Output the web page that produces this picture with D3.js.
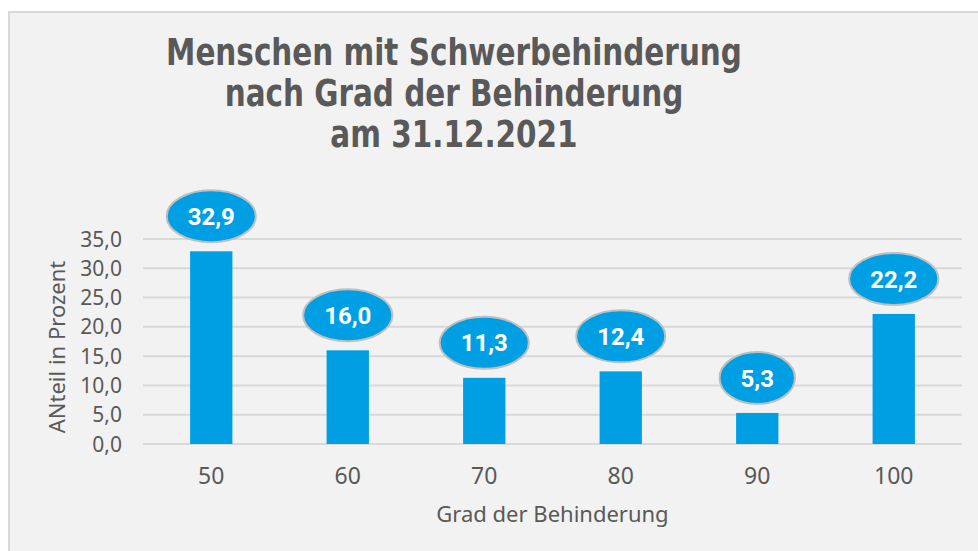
<!DOCTYPE html>
<html>
<head>
<meta charset="utf-8">
<script src="https://cdn.jsdelivr.net/npm/d3@7"></script>
<style>
    body { margin: 0; background: #ffffff; }
    svg { display: block; }
</style>
</head>
<body>
<script>
    // Data
    let grades = ["50", "60", "70", "80", "90", "100"];
    let shares = [32.9, 16.0, 11.3, 12.4, 5.3, 22.2];
    let yTicks = [0, 5, 10, 15, 20, 25, 30, 35];
    let titleLines = ["Menschen mit Schwerbehinderung", "nach Grad der Behinderung", "am 31.12.2021"];

    let W = 978, H = 551;
    let margin = { top: 239, right: 16, bottom: 107, left: 143 };
    let fmt = v => v.toFixed(1).replace(".", ",");

    let svg = d3.select("body").append("svg")
        .attr("width", W)
        .attr("height", H);

    // chart area background + border (left and top only visible)
    svg.append("rect")
        .attr("x", 9).attr("y", 12)
        .attr("width", W - 9).attr("height", H - 12)
        .attr("fill", "#f2f2f2");
    svg.append("path")
        .attr("d", `M9,${H} V12 H${W}`)
        .attr("fill", "none")
        .attr("stroke", "#d9d9d9")
        .attr("stroke-width", 2);

    let x = d3.scaleBand()
        .domain(grades)
        .range([margin.left, W - margin.right])
        .paddingInner(0.69)
        .paddingOuter(0.345);

    let y = d3.scaleLinear()
        .domain([0, 35])
        .range([H - margin.bottom, margin.top]);

    let font = "'Noto Sans', 'Open Sans', sans-serif";

    // gridlines
    svg.append("g")
        .selectAll("line")
        .data(yTicks)
        .join("line")
        .attr("x1", margin.left)
        .attr("x2", W - margin.right)
        .attr("y1", d => y(d))
        .attr("y2", d => y(d))
        .attr("stroke", "#d9d9d9")
        .attr("stroke-width", 2);

    // y tick labels
    svg.append("g")
        .selectAll("text")
        .data(yTicks)
        .join("text")
        .attr("x", 122)
        .attr("y", d => y(d))
        .attr("dy", "0.36em")
        .attr("text-anchor", "end")
        .attr("font-family", font)
        .attr("font-size", 21)
        .attr("fill", "#595959")
        .text(d => fmt(d));

    // bars
    svg.append("g")
        .selectAll("rect")
        .data(shares)
        .join("rect")
        .attr("x", (d, i) => x(grades[i]))
        .attr("y", d => y(d))
        .attr("width", x.bandwidth())
        .attr("height", d => y(0) - y(d))
        .attr("fill", "#009fe3");

    // x tick labels
    svg.append("g")
        .selectAll("text")
        .data(grades)
        .join("text")
        .attr("x", d => x(d) + x.bandwidth() / 2)
        .attr("y", 484)
        .attr("text-anchor", "middle")
        .attr("font-family", font)
        .attr("font-size", 23)
        .attr("fill", "#595959")
        .text(d => d);

    // axis titles
    svg.append("text")
        .attr("x", (margin.left + W - margin.right) / 2)
        .attr("y", 522)
        .attr("text-anchor", "middle")
        .attr("font-family", font)
        .attr("font-size", 22)
        .attr("fill", "#595959")
        .text("Grad der Behinderung");

    svg.append("text")
        .attr("transform", "translate(65,347) rotate(-90)")
        .attr("text-anchor", "middle")
        .attr("font-family", font)
        .attr("font-size", 22)
        .attr("fill", "#595959")
        .text("ANteil in Prozent");

    // data labels in ellipses
    let labels = svg.append("g")
        .selectAll("g")
        .data(shares)
        .join("g")
        .attr("transform", (d, i) => `translate(${x(grades[i]) + x.bandwidth() / 2},${y(d) - 35})`);

    let ell = labels.append("ellipse")
        .attr("rx", 44)
        .attr("ry", 26)
        .attr("fill", "#009fe3")
        .attr("stroke", "#bfbfbf")
        .attr("stroke-width", 2);

    let lt = labels.append("text")
        .attr("text-anchor", "middle")
        .attr("dy", "0.36em")
        .attr("font-family", "Roboto, 'Noto Sans', sans-serif")
        .attr("font-weight", "bold")
        .attr("font-size", 24)
        .attr("fill", "#ffffff")
        .text(d => fmt(d));

    lt.each(function (d, i) {
        let w = this.getComputedTextLength();
        d3.select(ell.nodes()[i]).attr("rx", w / 2 + 21);
    });

    // title (compressed horizontally to imitate a condensed face)
    let titleG = svg.append("g");
    let title = titleG.append("text")
        .attr("text-anchor", "middle")
        .attr("font-family", "'Liberation Sans Narrow', 'DejaVu Sans Condensed', Roboto, sans-serif")
        .attr("font-weight", "bold")
        .attr("font-size", 37)
        .attr("fill", "#595959");
    let tspans = title.selectAll("tspan")
        .data(titleLines)
        .join("tspan")
        .attr("x", 0)
        .attr("y", (d, i) => 65 + i * 41)
        .text(d => d);
    let firstW = tspans.node().getComputedTextLength();
    let sx = Math.min(1, 576 / firstW);
    titleG.attr("transform", `translate(454,0) scale(${sx},1)`);
</script>
</body>
</html>
